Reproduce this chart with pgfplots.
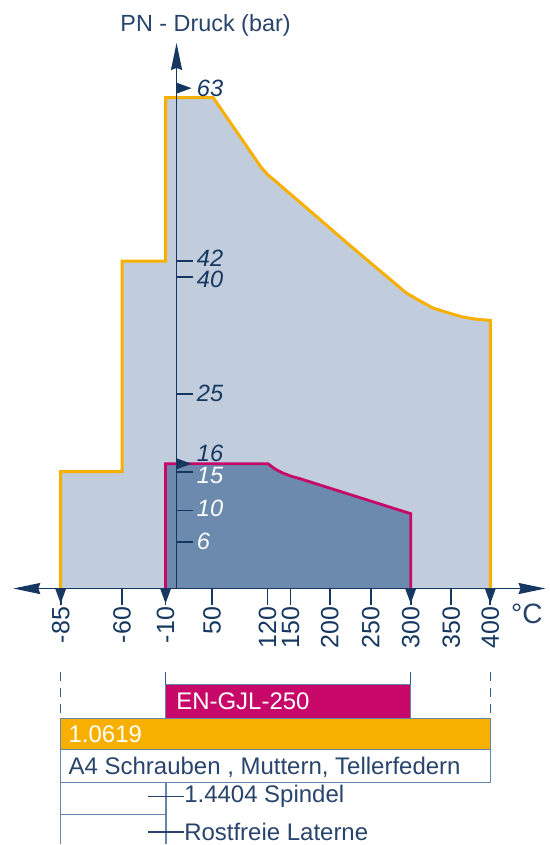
\documentclass[border=0pt]{standalone}
\usepackage{fontspec}
\setmainfont{Liberation Sans}
\usepackage{pgfplots}
\pgfplotsset{compat=1.18}
\usetikzlibrary{arrows.meta}
\definecolor{navy}{RGB}{22,55,95}
\definecolor{txt}{RGB}{40,68,108}
\definecolor{lightfill}{RGB}{193,204,221}
\definecolor{darkfill}{RGB}{108,137,174}
\definecolor{orng}{RGB}{247,176,0}
\definecolor{mag}{RGB}{199,8,104}
\definecolor{frame}{RGB}{100,132,172}
\definecolor{dashc}{RGB}{55,90,130}
% flag marks on the axes
\pgfdeclareplotmark{flagdown}{%
  \pgfpathmoveto{\pgfpoint{-2.75pt}{0pt}}%
  \pgfpathlineto{\pgfpoint{2.75pt}{0pt}}%
  \pgfpathlineto{\pgfpoint{0pt}{-7.5pt}}%
  \pgfpathclose\pgfusepathqfill}
\pgfdeclareplotmark{flagright}{%
  \pgfpathmoveto{\pgfpoint{0pt}{2.75pt}}%
  \pgfpathlineto{\pgfpoint{7.5pt}{0pt}}%
  \pgfpathlineto{\pgfpoint{0pt}{-2.75pt}}%
  \pgfpathclose\pgfusepathqfill}
\begin{document}
\begin{tikzpicture}
\begin{axis}[
  x=0.5pt, y=3.9pt,
  xmin=-163.4, xmax=369.3, ymin=0, ymax=70,
  axis lines=middle,
  axis line style={draw=navy, line width=0.9pt},
  x axis line style={{Stealth[length=13.5pt,width=5.5pt,inset=1pt]}-{Stealth[length=13.5pt,width=5.5pt,inset=1pt]}},
  y axis line style={-{Stealth[length=13.5pt,width=5.5pt,inset=1pt]}},
  clip=false,
  axis on top,
  /pgf/number format/assume math mode=true,
  xtick={-116,-54.5,-11,35.6,91,114,153.3,194.3,234.3,275,314},
  xticklabels={{-85},{-60},{-10},{50},{120},{150},{200},{250},{300},{350},{400}},
  xtick align=outside, ytick align=inside,
  major tick length=8pt,
  tick style={draw=navy, line width=0.9pt},
  xticklabel style={rotate=90, anchor=east, inner sep=1pt, font=\fontsize{12.5}{12.5}\selectfont, text=navy},
  % tick marks at the pressure values
  ytick={6,10,15,25,40,42},
  yticklabels={,,,,,},
  yticklabel style={anchor=west, inner sep=0pt, xshift=10pt, font=\itshape\fontsize{11.8}{11.8}\selectfont, text=navy},
  % labels, set a little apart where they crowd
  extra y ticks={6,10.3,14.5,17.4,25,39.6,42.4,64.2},
  extra y tick labels={\textcolor{white}{6},\textcolor{white}{10},\textcolor{white}{15},16,25,40,42,63},
  extra y tick style={tick style={draw=none}},
]
% bounding box = whole picture
\path (axis cs:-176.7,-32.82) rectangle (axis cs:371.3,75.51);

% 1.0619 range (orange outline, light fill)
\addplot[fill=lightfill, draw=orng, line width=1.5pt, line join=miter] coordinates {
  (-116,0) (-116,15) (-54.5,15) (-54.5,42) (-11,42) (-11,63) (36.6,63)
  (84.3,54.1) (91.3,53.08) (99.3,52.24) (108.3,51.22) (116.6,50.32)
  (173.3,44.04) (230,37.91) (243.3,36.92) (256.6,35.99) (273.3,35.32)
  (286.6,34.83) (300.3,34.55) (314,34.4) (314,0)};

% EN-GJL-250 range (magenta outline, dark fill)
\addplot[fill=darkfill, draw=mag, line width=1.4pt, line join=miter] coordinates {
  (-11,0) (-11,16) (91.6,16) (99,15.3) (106.6,14.8) (115,14.4) (123.3,14.1)
  (234.3,9.6) (234.3,0)};

% flags on the axes
\addplot[only marks, mark=flagright, navy] coordinates {(0,16) (0,64.2)};
\addplot[only marks, mark=flagdown, navy] coordinates {(-116,0) (-11,0) (234.3,0) (314,0)};

% titles
\node[text=txt, font=\fontsize{11.7}{12}\selectfont] at (axis cs:29,72.3) {PN - Druck (bar)};
\node[text=txt, font=\fontsize{14}{14}\selectfont] at (axis cs:350.6,-3.3) {°C};

% material table below
\draw[dashc, line width=0.8pt, dash pattern=on 4.5pt off 3.5pt] (axis cs:-116,-10.73) -- (axis cs:-116,-16.6);
\draw[dashc, line width=0.8pt, dash pattern=on 4.5pt off 3.5pt] (axis cs:314,-10.73) -- (axis cs:314,-16.6);
\draw[dashc, line width=0.8pt] (axis cs:-11,-10.73) -- (axis cs:-11,-12.31);
\draw[dashc, line width=0.8pt] (axis cs:234.3,-10.73) -- (axis cs:234.3,-12.31);

\draw[frame, line width=0.5pt, fill=mag] (axis cs:-11,-12.31) rectangle (axis cs:234.3,-16.66);
\node[anchor=west, inner sep=0pt, text=white, font=\fontsize{12}{12}\selectfont] at (axis cs:-0.7,-14.45) {EN-GJL-250};

\draw[frame, line width=0.5pt, fill=orng] (axis cs:-116,-16.66) rectangle (axis cs:314,-20.64);
\node[anchor=west, inner sep=0pt, text=white, font=\fontsize{12}{12}\selectfont] at (axis cs:-108.4,-18.72) {1.0619};

\draw[frame, line width=0.7pt, fill=white] (axis cs:-116,-20.64) rectangle (axis cs:314,-24.91);
\node[anchor=west, inner sep=0pt, text=txt, font=\fontsize{12}{12}\selectfont] at (axis cs:-108.4,-22.99) {A4 Schrauben , Muttern, Tellerfedern};

\draw[frame, line width=0.7pt] (axis cs:-116,-24.91) -- (axis cs:-116,-32.82);
\draw[frame, line width=0.7pt] (axis cs:-10.7,-24.91) -- (axis cs:-10.7,-32.82);
\draw[frame, line width=0.7pt] (axis cs:-116,-28.97) -- (axis cs:-10.7,-28.97);
\draw[txt, line width=0.6pt] (axis cs:-28.4,-26.71) -- (axis cs:7.3,-26.71);
\draw[txt, line width=0.6pt] (axis cs:-28.4,-31.24) -- (axis cs:7.3,-31.24);
\node[anchor=west, inner sep=0pt, text=txt, font=\fontsize{12}{12}\selectfont] at (axis cs:7.3,-26.71) {1.4404 Spindel};
\node[anchor=west, inner sep=0pt, text=txt, font=\fontsize{12}{12}\selectfont] at (axis cs:7.3,-31.24) {Rostfreie Laterne};
\end{axis}
\end{tikzpicture}
\end{document}
